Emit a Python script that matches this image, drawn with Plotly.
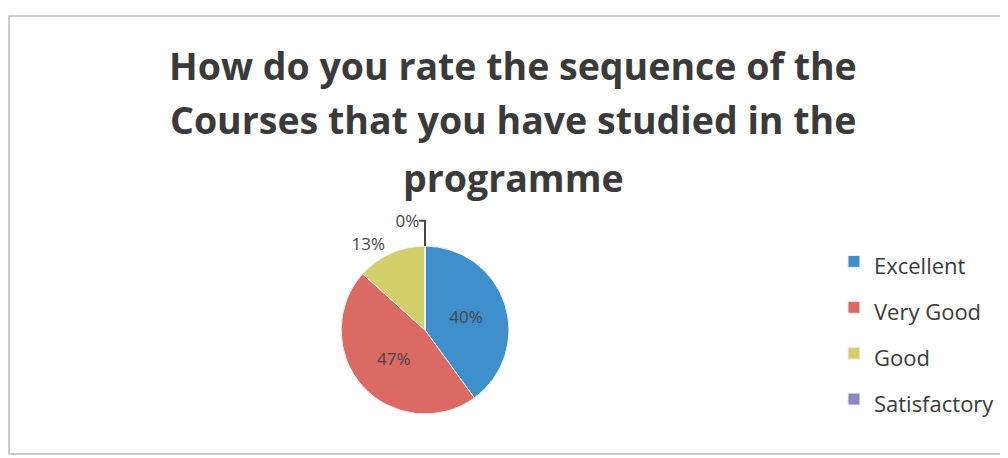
import plotly.graph_objects as go

# survey responses (counts) -> percentages shown on the pie
categories = ["Excellent", "Very Good", "Good", "Satisfactory"]
responses = [6, 7, 2, 0]
colors = ["#3f8fcc", "#dc6a64", "#d3d06c", "#8a88c0"]
label_pos = ["inside", "inside", "outside", "outside"]

title_lines = ["How do you rate the sequence of the",
               "Courses that you have studied in the",
               "programme"]
title_y = [0.8755, 0.7555, 0.629]

FONT = "Open Sans, sans-serif"

# big legend font sets the row spacing, smaller span sets the visible text size
legend_labels = [f"<span style='font-size:22px'>{c}</span>" for c in categories]

fig = go.Figure()
fig.add_trace(go.Pie(
    labels=legend_labels,
    values=responses,
    marker=dict(colors=colors, line=dict(color="#f4f4f4", width=1)),
    sort=False,
    direction="clockwise",
    rotation=0,
    texttemplate="%{percent:.0%}",
    textposition=label_pos,
    textfont=dict(family=FONT, size=17, color="#454545"),
    insidetextorientation="horizontal",
    domain=dict(x=[0.3304, 0.4970], y=[0.1135, 0.4803]),
    hoverinfo="label+value+percent",
))

for line, yy in zip(title_lines, title_y):
    fig.add_annotation(text=line, x=0.501, y=yy, xref="paper", yref="paper",
                       xanchor="center", yanchor="middle", showarrow=False,
                       font=dict(family=FONT, size=37.5, color="#3a3a3a", weight="bold"))

fig.update_layout(
    width=1008, height=458,
    margin=dict(l=0, r=0, t=0, b=0),
    paper_bgcolor="white",
    legend=dict(x=0.8194, y=0.296, xanchor="left", yanchor="middle",
                font=dict(family=FONT, size=33, color="#3a3a3a"),
                itemwidth=30),
    shapes=[dict(type="rect", xref="paper", yref="paper", x0=0.001, x1=1.0,
                 y0=0.026, y1=0.9825, line=dict(color="#bdbdbd", width=1.5))],
)

fig.write_html("out.html")
